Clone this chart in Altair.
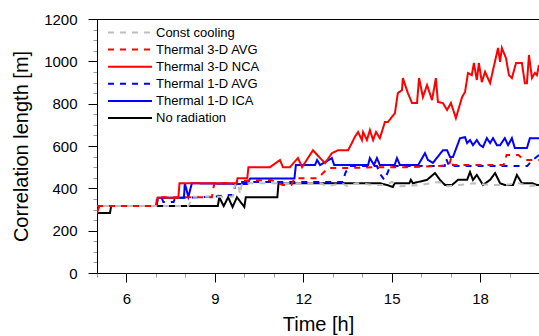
import altair as alt
import pandas as pd

# ---- data ----
series_names = ["Const cooling", "Thermal 3-D AVG", "Thermal 3-D NCA",
                "Thermal 1-D AVG", "Thermal 1-D ICA", "No radiation"]
series_colors = ["#bebebe", "#ff0000", "#ff0000", "#0000ff", "#0000ff", "#000000"]

const_t = [5.0, 8.1, 8.25, 9.6, 9.7, 9.8, 9.85, 9.92, 12.6, 12.8, 13.3, 13.5, 13.8, 14.4,
           14.8, 15.0, 15.3, 16.0, 16.6, 16.9, 17.3, 17.8, 18.3, 18.8, 19.3, 19.7, 20.0]
const_v = [316, 316, 360, 360, 424, 424, 372, 424, 424, 410, 424, 410, 424, 416,
           416, 430, 410, 416, 430, 410, 416, 424, 416, 416, 424, 410, 416]

avg3d_t = [5.0, 7.0, 7.04, 8.9, 8.98, 9.73, 9.77, 10.9, 11.3, 11.6, 11.7, 12.5, 12.84,
           13.5, 14.5, 15.5, 16.5, 16.95, 17.02, 17.08, 18.8, 18.9, 19.3, 19.5, 20.0]
avg3d_v = [316, 316, 358, 358, 424, 424, 435, 440, 416, 416, 448, 448, 496,
           496, 500, 500, 505, 510, 543, 510, 510, 557, 557, 534, 534]

nca3d_t = [5.0, 5.08, 7.02, 7.06, 7.76, 7.8, 9.73, 9.77, 10.1, 10.14, 10.87, 11.21, 11.31,
           11.55, 11.82, 11.96, 12.33, 12.57, 12.74, 12.97, 13.18, 13.52, 13.65, 13.75,
           13.86, 13.99, 14.03, 14.16, 14.26, 14.37, 14.47, 14.60, 14.77, 14.87, 15.11,
           15.21, 15.35, 15.38, 15.55, 15.69, 15.86, 15.93, 16.06, 16.20, 16.37, 16.50,
           16.57, 16.74, 16.88, 17.01, 17.18, 17.39, 17.49, 17.59, 17.72, 17.79, 17.89,
           17.96, 18.06, 18.17, 18.34, 18.44, 18.61, 18.68, 18.74, 18.88, 18.98, 19.08,
           19.22, 19.42, 19.52, 19.59, 19.66, 19.76, 19.86, 19.93, 20.0]
nca3d_v = [283, 316, 316, 355, 355, 424, 424, 448, 448, 500, 500, 534, 500,
           500, 543, 500, 580, 543, 519, 566, 580, 580, 614, 643,
           666, 628, 666, 628, 675, 628, 666, 637, 713, 713, 755,
           850, 864, 921, 850, 803, 803, 921, 831, 888, 817, 921,
           808, 803, 770, 803, 732, 831, 855, 945, 935, 992, 912,
           992, 902, 950, 897, 959, 1063, 997, 1063, 1015, 935, 921,
           992, 992, 897, 897, 1030, 921, 945, 935, 983]

avg1d_t = [5.0, 7.02, 7.06, 7.2, 7.25, 7.6, 7.65, 8.9, 9.5, 9.62, 9.72, 13.35, 13.42,
           13.55, 14.5, 14.6, 14.75, 14.85, 14.95, 16.8, 16.85, 16.95, 19.6, 19.75, 20.0]
avg1d_v = [316, 316, 355, 355, 335, 335, 355, 360, 368, 368, 430, 430, 470,
           505, 505, 470, 440, 470, 505, 505, 540, 505, 505, 530, 557]

ica1d_t = [5.0, 7.02, 7.06, 7.95, 7.98, 8.1, 8.22, 10.1, 10.2, 11.7, 11.75, 12.4, 12.47,
           12.57, 12.97, 13.05, 14.2, 14.26, 14.4, 14.5, 14.6, 15.1, 15.18, 15.28, 15.9,
           16.13, 16.23, 16.40, 16.74, 16.88, 16.98, 17.08, 17.32, 17.49, 17.56, 17.66,
           17.76, 17.89, 18.0, 18.10, 18.23, 18.34, 18.44, 18.57, 18.68, 18.84, 18.95,
           19.08, 19.18, 19.59, 19.69, 20.0]
ica1d_v = [316, 316, 355, 355, 424, 360, 424, 420, 447, 447, 510, 510, 534,
           510, 543, 510, 510, 543, 510, 543, 510, 510, 543, 510, 510,
           566, 534, 520, 580, 580, 548, 548, 637, 642, 614, 628,
           604, 628, 604, 595, 637, 614, 637, 604, 604, 637, 604,
           637, 590, 590, 637, 637]

norad_t = [5.0, 5.44, 5.48, 9.1, 9.15, 9.3, 9.45, 9.6, 9.75, 10.0, 10.05, 11.12, 11.16,
           14.6, 14.84, 15.04, 15.1, 15.6, 15.65, 15.72, 16.2, 16.47, 16.64, 16.81, 17.05,
           17.25, 17.56, 17.66, 17.76, 17.89, 18.1, 18.34, 18.51, 18.68, 18.84, 19.12,
           19.25, 19.42, 19.79, 19.93, 20.0]
norad_v = [283, 283, 316, 316, 358, 316, 358, 312, 358, 312, 358, 358, 424,
           424, 416, 406, 424, 424, 440, 424, 440, 472, 440, 416, 416,
           440, 440, 477, 440, 463, 416, 440, 472, 424, 416, 416,
           463, 424, 424, 416, 416]

series_data = {
    "Const cooling": (const_t, const_v),
    "Thermal 3-D AVG": (avg3d_t, avg3d_v),
    "Thermal 3-D NCA": (nca3d_t, nca3d_v),
    "Thermal 1-D AVG": (avg1d_t, avg1d_v),
    "Thermal 1-D ICA": (ica1d_t, ica1d_v),
    "No radiation": (norad_t, norad_v),
}

rows = []
for name, (ts, vs) in series_data.items():
    for t, v in zip(ts, vs):
        rows.append({"series": name, "time": t, "length": v})
df = pd.DataFrame(rows)

FONT = "Liberation Sans"
dash_map = {"Const cooling": [6, 6], "Thermal 3-D AVG": [6, 6], "Thermal 3-D NCA": [1, 0],
            "Thermal 1-D AVG": [6, 6], "Thermal 1-D ICA": [1, 0], "No radiation": [1, 0]}

x_axis = alt.Axis(
    values=list(range(5, 21)),
    labelExpr="datum.value % 3 === 0 ? datum.label : ''",
    tickSize={"condition": {"test": "datum.value % 3 === 0", "value": 9}, "value": 4},
    tickColor={"condition": {"test": "datum.value % 3 === 0", "value": "#000000"}, "value": "#999999"},
    labelFont=FONT, labelFontSize=15, labelColor="#000000", labelPadding=9,
    labelOverlap=False, grid=False, domainColor="#000000",
    title="Time [h]", titleFont=FONT, titleFontSize=20, titleFontWeight="normal",
    titleColor="#000000", titlePadding=8,
)
y_axis = alt.Axis(
    values=list(range(0, 1201, 50)),
    format="d",
    labelExpr="datum.value % 200 === 0 ? datum.label : ''",
    tickSize={"condition": {"test": "datum.value % 200 === 0", "value": 9}, "value": 4},
    tickColor={"condition": {"test": "datum.value % 200 === 0", "value": "#000000"}, "value": "#999999"},
    labelFont=FONT, labelFontSize=15, labelColor="#000000", labelPadding=11,
    labelOverlap=False, grid=False, domainColor="#000000",
    title="Correlation length [m]", titleFont=FONT, titleFontSize=20,
    titleFontWeight="normal", titleColor="#000000", titlePadding=12,
)

color_scale = alt.Scale(domain=series_names, range=series_colors)
dash_scale = alt.Scale(domain=series_names, range=[dash_map[n] for n in series_names])

legend = alt.Legend(
    title=None, orient="none", legendX=10, legendY=6, symbolType="stroke",
    symbolSize=1936, symbolStrokeWidth=2, labelFont=FONT, labelFontSize=13,
    labelColor="#000000", clipHeight=15, rowPadding=2.1, labelOffset=3, padding=0,
)

base = alt.Chart(df).encode(
    x=alt.X("time:Q", scale=alt.Scale(domain=[5, 20], nice=False, zero=False), axis=x_axis),
    y=alt.Y("length:Q", scale=alt.Scale(domain=[0, 1200], nice=False), axis=y_axis),
    color=alt.Color("series:N", scale=color_scale, legend=legend),
    strokeDash=alt.StrokeDash("series:N", scale=dash_scale, legend=legend),
)

draw_order = ["No radiation", "Thermal 1-D ICA", "Thermal 3-D NCA",
              "Thermal 1-D AVG", "Const cooling", "Thermal 3-D AVG"]
layers = []
for name in draw_order:
    offset = 6 if name in ("Const cooling",) else 0
    layers.append(
        base.transform_filter(alt.datum.series == name)
        .mark_line(strokeWidth=2, strokeDashOffset=offset, clip=True)
    )

chart = alt.layer(*layers).properties(
    width=442, height=254,
    autosize=alt.AutoSizeParams(type="none"),
    padding={"left": 97, "top": 19, "right": 0, "bottom": 63},
).configure_view(stroke="#000000", strokeWidth=1)

chart.save("out.html", embed_options={"renderer": "svg", "actions": False})
